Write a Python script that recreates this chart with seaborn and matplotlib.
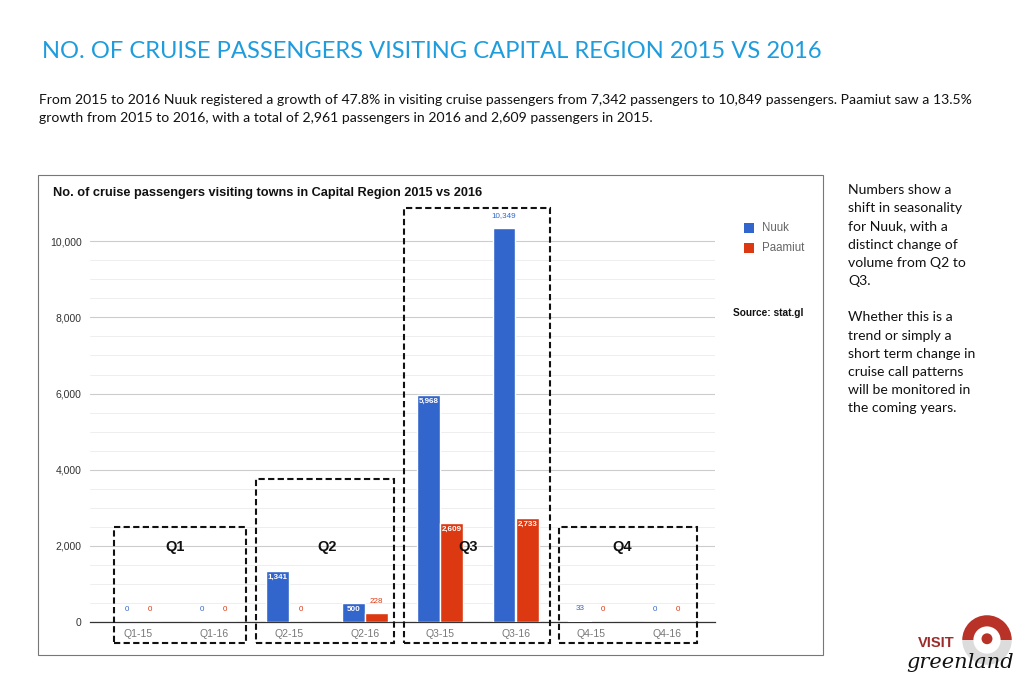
"""
Cruise passengers visiting Capital Region towns, 2015 vs 2016.
"""
import numpy as np
import pandas as pd
import seaborn as sns
import matplotlib.pyplot as plt
from matplotlib.patches import Rectangle, Wedge, Circle

# --- data ---
quarters = ["Q1-15", "Q1-16", "Q2-15", "Q2-16", "Q3-15", "Q3-16", "Q4-15", "Q4-16"]
nuuk = [0, 0, 1341, 500, 5968, 10349, 33, 0]
paamiut = [0, 0, 0, 228, 2609, 2733, 0, 0]
towns = ["Nuuk", "Paamiut"]
colors = ["#3366CC", "#DC3912"]

W, H = 1024, 683


def px(x, y):
    # pixel (from top-left) to figure fraction
    return x / W, 1 - y / H


def main():
    df = pd.DataFrame({"quarter": quarters * 2,
                       "town": ["Nuuk"] * len(quarters) + ["Paamiut"] * len(quarters),
                       "value": nuuk + paamiut})

    sns.set_theme(style="white")
    plt.rcParams["font.family"] = ["Liberation Sans", "DejaVu Sans"]

    fig = plt.figure(figsize=(W / 100, H / 100), dpi=100)
    fig.patch.set_facecolor("white")

    # page text
    fig.text(*px(42, 52), "NO. OF CRUISE PASSENGERS VISITING CAPITAL REGION 2015 VS 2016",
             family="Lato", fontsize=17.1, color="#1E9CDC", va="center")
    fig.text(*px(39, 100),
             "From 2015 to 2016 Nuuk registered a growth of 47.8% in visiting cruise passengers "
             "from 7,342 passengers to 10,849 passengers. Paamiut saw a 13.5%",
             family="Lato", fontsize=10.05, color="#111111", va="center")
    fig.text(*px(39, 118),
             "growth from 2015 to 2016, with a total of 2,961 passengers in 2016 and 2,609 passengers in 2015.",
             family="Lato", fontsize=10.05, color="#111111", va="center")

    side = ("Numbers show a\nshift in seasonality\nfor Nuuk, with a\ndistinct change of\n"
            "volume from Q2 to\nQ3.\n\nWhether this is a\ntrend or simply a\n"
            "short term change in\ncruise call patterns\nwill be monitored in\nthe coming years.")
    fig.text(*px(848, 184), side, family="Lato", fontsize=10.1, color="#111111",
             va="top", linespacing=1.62)

    # chart frame
    x0, y0 = px(38, 655)
    x1, y1 = px(823, 175)
    fig.add_artist(Rectangle((x0, y0), x1 - x0, y1 - y0, transform=fig.transFigure,
                             fill=False, edgecolor="#777777", lw=0.8))
    fig.text(*px(53, 193), "No. of cruise passengers visiting towns in Capital Region 2015 vs 2016",
             fontsize=9.2, fontweight="bold", color="#111111", va="center")

    # axes
    l, b = px(90, 622)
    r, t = px(715, 226)
    ax = fig.add_axes([l, b, r - l, t - b])
    sns.barplot(data=df, x="quarter", y="value", hue="town", palette=colors,
                width=0.61, gap=0.02, saturation=1, ax=ax, legend=False, zorder=3)
    ax.set_xlim(-0.64, 7.64)
    ax.set_ylim(0, 10400)
    ax.set_yticks([0, 2000, 4000, 6000, 8000, 10000])
    ax.set_yticks(np.arange(0, 10001, 500), minor=True)
    ax.set_yticklabels(["0", "2,000", "4,000", "6,000", "8,000", "10,000"])
    ax.grid(axis="y", which="major", color="#CCCCCC", lw=0.8, zorder=0)
    ax.grid(axis="y", which="minor", color="#EBEBEB", lw=0.6, zorder=0)
    ax.set_axisbelow(True)
    ax.set_xlabel("")
    ax.set_ylabel("")
    for s in ["top", "right", "left"]:
        ax.spines[s].set_visible(False)
    ax.spines["bottom"].set_color("#333333")
    ax.spines["bottom"].set_linewidth(0.9)
    ax.tick_params(axis="y", which="both", length=0, labelsize=7.5, labelcolor="#333333", pad=6)
    ax.tick_params(axis="x", length=0, labelsize=7.5, labelcolor="#777777", pad=5)
    ax.set_facecolor("none")

    # value labels
    for cont, col in zip(ax.containers, colors):
        for bar in cont:
            v = bar.get_height()
            xc = bar.get_x() + bar.get_width() / 2
            txt = f"{int(v):,}"
            if 400 < v < 10000:
                ax.text(xc, v - 80, txt, ha="center", va="top", fontsize=5.8, color="white",
                        fontweight="bold", zorder=5, clip_on=False)
            else:
                ax.text(xc, v + 230, txt, ha="center", va="bottom", fontsize=5.8, color=col,
                        zorder=5, clip_on=False)

    # dashed quarter boxes
    boxes = [("Q1", 114, 527, 246, 643, 175),
             ("Q2", 256, 479, 394, 643, 327),
             ("Q3", 404, 208, 550, 643, 468),
             ("Q4", 559, 527, 697, 643, 622)]
    for name, bx0, by0, bx1, by1, lx in boxes:
        a0, a1 = px(bx0, by1)
        c0, c1 = px(bx1, by0)
        fig.add_artist(Rectangle((a0, a1), c0 - a0, c1 - a1, transform=fig.transFigure,
                                 fill=False, edgecolor="#111111", lw=1.5, ls=(0, (3, 1.6)),
                                 zorder=6))
        fig.text(*px(lx, 547), name, fontsize=10.5, fontweight="bold", color="#111111",
                 ha="center", va="center", zorder=7)

    # legend
    for i, (name, col) in enumerate(zip(towns, colors)):
        sx, sy = px(744, 233 + 20 * i)
        fig.add_artist(Rectangle((sx, sy), 10 / W, 10 / H, transform=fig.transFigure,
                                 facecolor=col, edgecolor="none"))
        fig.text(*px(762, 228 + 20 * i), name, fontsize=8.3, color="#666666", va="center")
    fig.text(*px(733, 313), "Source: stat.gl", fontsize=7.3, fontweight="bold",
             color="#111111", va="center")

    # logo
    lx0, ly0 = px(960, 666)
    lx1, ly1 = px(1014, 614)
    lax = fig.add_axes([lx0, ly0, lx1 - lx0, ly1 - ly0])
    lax.set_xlim(-1.05, 1.05)
    lax.set_ylim(-1.05, 1.05)
    lax.set_aspect("equal")
    lax.axis("off")
    lax.add_patch(Wedge((0, 0), 1.0, 0, 180, width=0.45, facecolor="#B83227", edgecolor="none"))
    lax.add_patch(Wedge((0, 0), 1.0, 180, 360, width=0.45, facecolor="#DCDCDC", edgecolor="none"))
    lax.add_patch(Circle((0, 0.05), 0.22, facecolor="#B83227", edgecolor="none"))
    fig.text(*px(936, 643), "VISIT", fontsize=10.5, fontweight="bold", color="#9E2B2B",
             ha="center", va="center", zorder=8)
    fig.text(*px(960, 662), "greenland", fontsize=15, style="italic", color="#111111",
             family="DejaVu Serif", ha="center", va="center", zorder=8)

    fig.savefig("out.png", dpi=100)


if __name__ == "__main__":
    main()
